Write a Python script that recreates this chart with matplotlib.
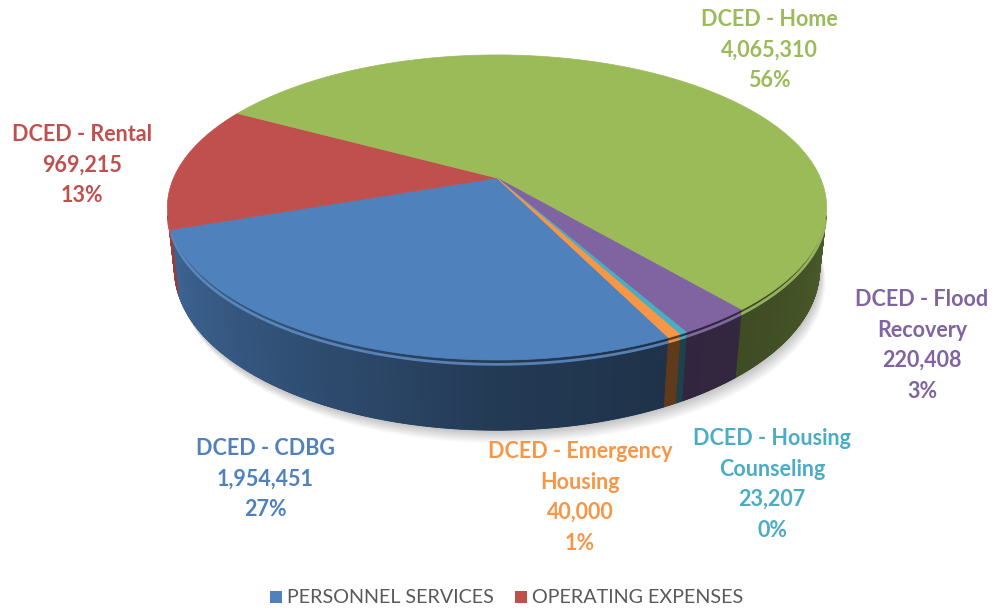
import numpy as np
import matplotlib.pyplot as plt
from matplotlib.patches import Polygon, Rectangle
from matplotlib.collections import PolyCollection
from matplotlib.colors import to_rgb

# data
names = ["DCED - CDBG", "DCED - Rental", "DCED - Home", "DCED - Flood\nRecovery",
         "DCED - Housing\nCounseling", "DCED - Emergency\nHousing"]
values = [1954451, 969215, 4065310, 220408, 23207, 40000]
colors = ["#4F81BD", "#C0504D", "#9BBB59", "#8064A2", "#4BACC6", "#F79646"]
legend_labels = ["PERSONNEL SERVICES", "OPERATING EXPENSES"]
legend_colors = ["#4F81BD", "#C0504D"]

# label centres (pixels) for each slice
label_pos = [(265, 447), (82, 133), (769, 18), (922, 298), (772, 437), (580, 450)]

# 3d view settings
elev = np.radians(27)
cam_d = 4.61
focal = 1491
cx, cy = 497, 178
thick = 0.215
first_angle = np.radians(296)

s_e, c_e = np.sin(elev), np.cos(elev)


def project(phi, z):
    X = np.cos(phi)
    Y = np.sin(phi)
    w = cam_d + Y * c_e - z * s_e
    up = Y * s_e + z * c_e
    return cx + focal * X / w, cy - focal * up / w


def shade(col, f):
    r, g, b = to_rgb(col)
    return (r * f, g * f, b * f)


def lighten(col, f):
    r, g, b = to_rgb(col)
    return (r + (1 - r) * f, g + (1 - g) * f, b + (1 - b) * f)


def wall_factor(phi):
    d = np.degrees(phi) % 360
    return np.interp(d, [194, 230, 270, 300, 346], [0.80, 0.66, 0.45, 0.38, 0.48])


fig = plt.figure(figsize=(9.94, 6.10), dpi=100)
ax = fig.add_axes([0, 0, 1, 1])
ax.set_xlim(0, 994)
ax.set_ylim(610, 0)
ax.axis("off")

frac = np.array(values) / sum(values)
ends = first_angle - np.cumsum(frac) * 2 * np.pi
starts = ends + frac * 2 * np.pi

# soft shadow under the pie
full = np.linspace(0, 2 * np.pi, 400)
bx, by = project(full, -thick)
for k in range(1, 13):
    ax.add_patch(Polygon(np.column_stack([bx + k * 0.5, by + k * 1.1]), closed=True,
                         facecolor="black", edgecolor="none", alpha=0.018, zorder=1))

# visible part of the side wall
a_sil = np.arcsin(1 / (cam_d * c_e))
vis_lo, vis_hi = np.pi + a_sil, 2 * np.pi - a_sil

for i in range(len(values)):
    lo, hi = ends[i], starts[i]
    for k in (-1, 0, 1):
        a0 = max(lo, vis_lo + 2 * np.pi * k)
        a1 = min(hi, vis_hi + 2 * np.pi * k)
        if a1 <= a0:
            continue
        n = max(2, int(np.degrees(a1 - a0) * 4))
        ph = np.linspace(a0, a1, n + 1)
        tx, ty = project(ph, 0)
        lx, ly = project(ph, -thick)
        # base polygon so seams between strips do not show white
        base = np.vstack([np.column_stack([tx, ty]), np.column_stack([lx, ly])[::-1]])
        mid_col = shade(colors[i], wall_factor(0.5 * (a0 + a1)))
        ax.add_patch(Polygon(base, closed=True, facecolor=mid_col, edgecolor="none", zorder=2))
        quads = []
        fcs = []
        for j in range(n):
            quads.append([(tx[j], ty[j]), (tx[j + 1], ty[j + 1]),
                          (lx[j + 1], ly[j + 1]), (lx[j], ly[j])])
            fcs.append(shade(colors[i], wall_factor(0.5 * (ph[j] + ph[j + 1]))))
        ax.add_collection(PolyCollection(quads, facecolors=fcs, edgecolors=fcs,
                                         linewidths=0.6, zorder=2.5))
        # bevel highlight along the rim
        hx, hy = project(ph, -0.01)
        ax.plot(hx, hy + 1.0, color=lighten(colors[i], 0.10), lw=2.0, alpha=0.85,
                solid_capstyle="butt", zorder=3)

# top faces
for i in range(len(values)):
    ph = np.linspace(starts[i], ends[i], max(3, int(np.degrees(frac[i] * 2 * np.pi) * 3)))
    tx, ty = project(ph, 0)
    pts = np.vstack([[cx, cy], np.column_stack([tx, ty])])
    ax.add_patch(Polygon(pts, closed=True, facecolor=colors[i], edgecolor=colors[i],
                         linewidth=0.5, zorder=4))

# data labels
for i in range(len(values)):
    pct = f"{frac[i] * 100:.0f}%"
    txt = f"{names[i]}\n{values[i]:,}\n{pct}"
    x, y = label_pos[i]
    ax.text(x, y - 9, txt, color=colors[i], fontsize=15.5, fontweight="bold",
            family="Lato", ha="center", va="top", linespacing=1.56, zorder=6)

# legend
leg_x = [270, 515]
for lx0, lab, col in zip(leg_x, legend_labels, legend_colors):
    ax.add_patch(Rectangle((lx0, 591), 12, 12, facecolor=col, edgecolor="none", zorder=6))
    ax.text(lx0 + 17, 597.5, lab, color="#595959", fontsize=14.2, family="Lato",
            ha="left", va="center", zorder=6)

fig.savefig("out.png", dpi=100)
